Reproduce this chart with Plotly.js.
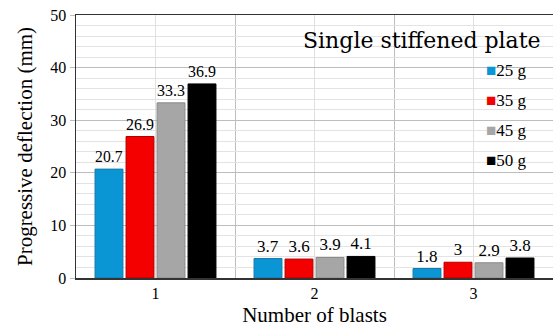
<!DOCTYPE html>
<html><head><meta charset="utf-8">
<script src="https://cdn.plot.ly/plotly-3.0.1.min.js"></script>
<style>html,body{margin:0;padding:0;background:#fff}#c{width:553px;height:332px}</style>
</head><body><div id="c"></div>
<script>
const blasts = [1, 2, 3];
const seriesNames = ['25 g', '35 g', '45 g', '50 g'];
const s25 = [20.7, 3.7, 1.8];
const s35 = [26.9, 3.6, 3];
const s45 = [33.3, 3.9, 2.9];
const s50 = [36.9, 4.1, 3.8];
const colors = ['#0a96d4', '#f50000', '#a6a6a6', '#000000'];
const lineColors = ['#1878a8', '#b00000', '#8a8a8a', '#000000'];

const series = [s25, s35, s45, s50];
const traces = series.map((vals, i) => ({
  type: 'bar', x: blasts, y: vals, name: seriesNames[i],
  marker: {color: colors[i], line: {color: lineColors[i], width: 1}},
  text: vals.map(v => String(v)), textposition: 'outside',
  textfont: {family: 'Times New Roman', size: 17, color: '#000'},
  cliponaxis: false, showlegend: false
}));

const legendAnn = seriesNames.map((n, i) => ({
  xref: 'paper', yref: 'paper', x: 0.855, y: 0.79 - i * 0.114,
  xanchor: 'left', yanchor: 'middle', showarrow: false,
  text: '<span style="color:' + colors[i] + '">■</span>' + n,
  font: {family: 'Tinos', size: 17, color: '#000'}
}));

const layout = {
  width: 553, height: 332,
  margin: {l: 76, r: 0, t: 15, b: 54},
  barmode: 'group', bargap: 0.22, bargroupgap: 0.1,
  showlegend: false,
  annotations: legendAnn,
  title: {text: 'Single stiffened plate', font: {family: 'DejaVu Serif', size: 22, color: '#000'},
          xref: 'paper', yref: 'paper', x: 0.725, xanchor: 'center', y: 0.905, yanchor: 'middle'},
  xaxis: {range: [0.5, 3.5], tickmode: 'array', tickvals: blasts, ticktext: blasts.map(String),
          showgrid: true, gridcolor: '#e0e0e0', gridwidth: 1,
          minor: {tickmode: 'array', tickvals: [0.5, 1.5, 2.5, 3.5], showgrid: true, gridcolor: '#bdbdbd', gridwidth: 1, ticks: ''},
          showline: true, linecolor: '#333', linewidth: 1.5, mirror: true,
          ticks: '', tickfont: {family: 'Liberation Serif', size: 16, color: '#000'},
          title: {text: 'Number of blasts', font: {family: 'serif', size: 21, color: '#000'}, standoff: 6},
          zeroline: false},
  yaxis: {range: [0, 50], dtick: 10, showgrid: true, gridcolor: '#bdbdbd', gridwidth: 1,
          minor: {dtick: 2, showgrid: true, gridcolor: '#e3e3e3', gridwidth: 1},
          showline: true, linecolor: '#333', linewidth: 1.5, mirror: true,
          ticks: 'outside', ticklen: 5, tickcolor: '#bdbdbd',
          tickfont: {family: 'Liberation Serif', size: 16, color: '#000'},
          title: {text: 'Progressive deflection (mm)', font: {family: 'serif', size: 21, color: '#000'}, standoff: 12},
          zeroline: false}
};
Plotly.newPlot('c', traces, layout, {staticPlot: true});
</script></body></html>
